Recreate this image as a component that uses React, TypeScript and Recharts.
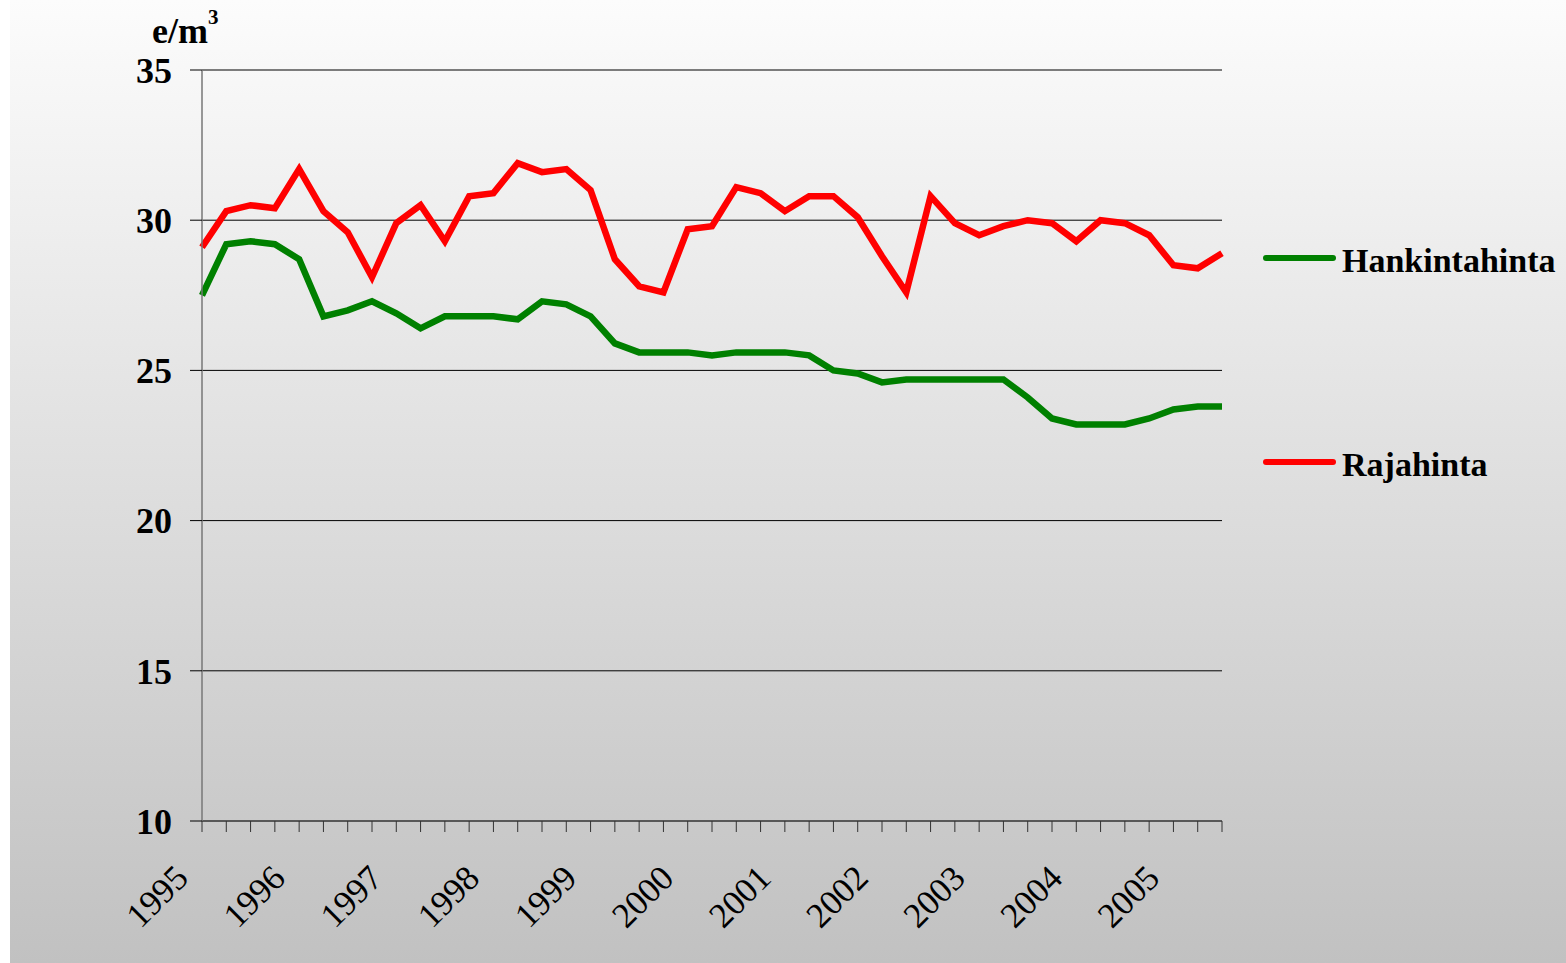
import React from 'react';
import { LineChart, Line, XAxis, YAxis, CartesianGrid, Legend } from 'recharts';

const quarters = [
  '1995 Q1', '1995 Q2', '1995 Q3', '1995 Q4',
  '1996 Q1', '1996 Q2', '1996 Q3', '1996 Q4',
  '1997 Q1', '1997 Q2', '1997 Q3', '1997 Q4',
  '1998 Q1', '1998 Q2', '1998 Q3', '1998 Q4',
  '1999 Q1', '1999 Q2', '1999 Q3', '1999 Q4',
  '2000 Q1', '2000 Q2', '2000 Q3', '2000 Q4',
  '2001 Q1', '2001 Q2', '2001 Q3', '2001 Q4',
  '2002 Q1', '2002 Q2', '2002 Q3', '2002 Q4',
  '2003 Q1', '2003 Q2', '2003 Q3', '2003 Q4',
  '2004 Q1', '2004 Q2', '2004 Q3', '2004 Q4',
  '2005 Q1', '2005 Q2', '2005 Q3',
];

const hankintahinta = [
  27.5, 29.2, 29.3, 29.2, 28.7, 26.8, 27.0, 27.3, 26.9, 26.4,
  26.8, 26.8, 26.8, 26.7, 27.3, 27.2, 26.8, 25.9, 25.6, 25.6,
  25.6, 25.5, 25.6, 25.6, 25.6, 25.5, 25.0, 24.9, 24.6, 24.7,
  24.7, 24.7, 24.7, 24.7, 24.1, 23.4, 23.2, 23.2, 23.2, 23.4,
  23.7, 23.8, 23.8,
];

const rajahinta = [
  29.1, 30.3, 30.5, 30.4, 31.7, 30.3, 29.6, 28.1, 29.9, 30.5,
  29.3, 30.8, 30.9, 31.9, 31.6, 31.7, 31.0, 28.7, 27.8, 27.6,
  29.7, 29.8, 31.1, 30.9, 30.3, 30.8, 30.8, 30.1, 28.8, 27.6,
  30.8, 29.9, 29.5, 29.8, 30.0, 29.9, 29.3, 30.0, 29.9, 29.5,
  28.5, 28.4, 28.9,
];

const yTicks = [10, 15, 20, 25, 30, 35];

const data = quarters.map((q, i) => ({
  q,
  Hankintahinta: hankintahinta[i],
  Rajahinta: rajahinta[i],
}));

const FONT = '"Liberation Serif", "Times New Roman", serif';

const XTick = (props: any) => {
  const { x, y, payload } = props;
  const idx = quarters.indexOf(payload.value);
  if (idx % 4 !== 0) return null;
  const ax = x - 12;
  const ay = y + 46;
  return (
    <text
      x={ax}
      y={ay}
      textAnchor="end"
      fill="#000"
      style={{ fontFamily: FONT, fontSize: 35 }}
      transform={`rotate(-45, ${ax}, ${ay})`}
    >
      {payload.value.slice(0, 4)}
    </text>
  );
};

const LegendBox = (props: any) => {
  const items = props.payload || [];
  return (
    <svg width={304} height={260} style={{ overflow: 'visible', display: 'block' }}>
      {items.map((it: any, i: number) => {
        const cy = 20 + i * 204;
        return (
          <g key={it.value}>
            <line x1={4} x2={71} y1={cy} y2={cy} stroke={it.color} strokeWidth={6} strokeLinecap="round" />
            <text x={80} y={cy + 14} style={{ fontFamily: FONT, fontWeight: 'bold', fontSize: 34 }} fill="#000">
              {it.value}
            </text>
          </g>
        );
      })}
    </svg>
  );
};

export default function App() {
  return (
    <div style={{ position: 'absolute', left: 0, top: 0, width: 1566, height: 963, background: '#ffffff', overflow: 'hidden' }}>
      <div
        style={{
          position: 'absolute',
          left: 10,
          top: 0,
          width: 1556,
          height: 963,
          background: 'linear-gradient(to bottom, #fcfcfc 0%, #c1c1c1 100%)',
        }}
      />
      <div style={{ position: 'absolute', left: 0, top: 0 }}>
        <LineChart width={1566} height={963} data={data} margin={{ top: 70, right: 344, bottom: 0, left: 0 }}>
          <CartesianGrid vertical={false} stroke="#000" strokeWidth={1} />
          <XAxis
            dataKey="q"
            height={142}
            interval={0}
            tickSize={11}
            tickMargin={2}
            axisLine={{ stroke: '#555', strokeWidth: 1.5 }}
            tickLine={{ stroke: '#333' }}
            tick={<XTick />}
          />
          <YAxis
            width={202}
            domain={[10, 35]}
            ticks={yTicks}
            interval={0}
            tickSize={12}
            tickMargin={18}
            axisLine={{ stroke: '#777', strokeWidth: 1.5 }}
            tickLine={{ stroke: '#000' }}
            tick={{ fill: '#000', fontSize: 36, fontWeight: 'bold', fontFamily: FONT }}
          />
          <Legend
            layout="horizontal"
            verticalAlign="middle"
            align="center"
            content={<LegendBox />}
            wrapperStyle={{ position: 'absolute', left: 1262, top: 238, width: 304, height: 260 }}
          />
          <Line type="linear" dataKey="Hankintahinta" stroke="#008000" strokeWidth={6.5} dot={false} activeDot={false} isAnimationActive={false} />
          <Line type="linear" dataKey="Rajahinta" stroke="#ff0000" strokeWidth={6.5} dot={false} activeDot={false} isAnimationActive={false} />
        </LineChart>
      </div>
      <svg width={300} height={60} style={{ position: 'absolute', left: 0, top: 0, pointerEvents: 'none' }}>
        <text x={152} y={43} style={{ fontFamily: FONT, fontWeight: 'bold', fontSize: 36 }} fill="#000">
          e/m
          <tspan dy={-19} style={{ fontSize: 21 }}>3</tspan>
        </text>
      </svg>
    </div>
  );
}
